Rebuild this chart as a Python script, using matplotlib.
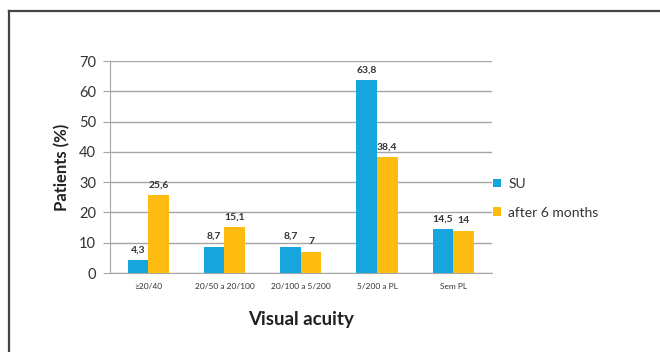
import matplotlib.pyplot as plt
import numpy as np

categories = ["\u226520/40", "20/50 a 20/100", "20/100 a 5/200", "5/200 a PL", "Sem PL"]
su = [4.3, 8.7, 8.7, 63.8, 14.5]
after_6m = [25.6, 15.1, 7.0, 38.4, 14.0]
series_names = ["SU", "after 6 months"]


def fmt(v):
    # comma decimal, drop trailing ",0"
    s = ("%.1f" % v).rstrip("0").rstrip(".")
    return s.replace(".", ",")


plt.rcParams["font.family"] = ["Lato", "DejaVu Sans"]

fig = plt.figure(figsize=(6.6, 3.52), dpi=100)
ax = fig.add_axes([0.1667, 0.2244, 0.578, 0.6023])

x = np.arange(len(categories))
w = 0.27
blue = "#17A5DE"
orange = "#FFBC10"
b1 = ax.bar(x - w / 2, su, w, color=blue, label=series_names[0], zorder=3)
b2 = ax.bar(x + w / 2, after_6m, w, color=orange, label=series_names[1], zorder=3)

for bars, vals in ((b1, su), (b2, after_6m)):
    for r, v in zip(bars, vals):
        ax.annotate(fmt(v), (r.get_x() + r.get_width() / 2, v),
                    xytext=(0, 4), textcoords="offset points",
                    ha="center", va="bottom", fontsize=7.5, fontweight="bold",
                    color="#333333", zorder=4)

ax.set_xlim(-0.5, len(categories) - 0.5)
ax.set_ylim(0, 70)
ax.set_yticks(range(0, 71, 10))
ax.yaxis.grid(True, color="#A6A6A6", lw=1, zorder=0)
ax.set_xticks(x)
ax.set_xticklabels(categories, fontsize=6, color="#333333")
ax.tick_params(axis="x", length=0, pad=7)
ax.tick_params(axis="y", length=5, color="#A6A6A6", labelsize=10.5,
               labelcolor="#333333", pad=5)

for s in ("top", "right"):
    ax.spines[s].set_visible(False)
for s in ("left", "bottom"):
    ax.spines[s].set_color("#A6A6A6")

ax.set_ylabel("Patients (%)", fontsize=12, fontweight="bold", color="#222222", labelpad=6)
ax.set_xlabel("Visual acuity", fontsize=13.5, fontweight="bold", color="#222222", labelpad=15)

leg = fig.legend(handles=[b1, b2], loc="upper left", bbox_to_anchor=(0.728, 0.53),
                 frameon=False, fontsize=10, handlelength=0.6, handleheight=0.6,
                 handletextpad=0.5, labelspacing=1.2)
for t in leg.get_texts():
    t.set_color("#333333")

# open frame around the figure (left and top edges)
fig.add_artist(plt.Line2D([0.0136, 0.0136], [0, 0.969], color="#444444", lw=1.6,
                          transform=fig.transFigure))
fig.add_artist(plt.Line2D([0.0136, 1], [0.969, 0.969], color="#444444", lw=1.6,
                          transform=fig.transFigure))

fig.savefig("out.png", dpi=100)
